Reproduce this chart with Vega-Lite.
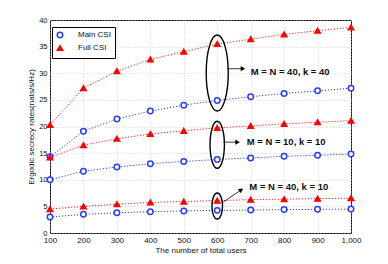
{
  "$schema": "https://vega.github.io/schema/vega-lite/v6.json",
  "width": 301,
  "height": 213,
  "autosize": "none",
  "padding": {"left": 50, "top": 20, "right": 37, "bottom": 31},
  "background": "white",
  "config": {
    "font": "Liberation Sans",
    "view": {"stroke": "black", "strokeWidth": 1},
    "axis": {
      "grid": true,
      "gridColor": "#c4c4c4",
      "gridDash": [1, 2],
      "gridWidth": 0.8,
      "domain": false,
      "ticks": false,
      "labelFontSize": 8,
      "labelColor": "#111",
      "titleFontSize": 8,
      "titleFontWeight": "normal",
      "titleColor": "#111",
      "labelFlush": false,
      "labelOverlap": false
    }
  },
  "datasets": {
    "curves": [
      {"users": 100, "rate": 20.3, "series": "Full CSI", "config": "40-40"},
      {"users": 200, "rate": 27.2, "series": "Full CSI", "config": "40-40"},
      {"users": 300, "rate": 30.4, "series": "Full CSI", "config": "40-40"},
      {"users": 400, "rate": 32.6, "series": "Full CSI", "config": "40-40"},
      {"users": 500, "rate": 34.05, "series": "Full CSI", "config": "40-40"},
      {"users": 600, "rate": 35.5, "series": "Full CSI", "config": "40-40"},
      {"users": 700, "rate": 36.4, "series": "Full CSI", "config": "40-40"},
      {"users": 800, "rate": 37.3, "series": "Full CSI", "config": "40-40"},
      {"users": 900, "rate": 38.0, "series": "Full CSI", "config": "40-40"},
      {"users": 1000, "rate": 38.6, "series": "Full CSI", "config": "40-40"},
      {"users": 100, "rate": 14.3, "series": "Main CSI", "config": "40-40"},
      {"users": 200, "rate": 19.1, "series": "Main CSI", "config": "40-40"},
      {"users": 300, "rate": 21.4, "series": "Main CSI", "config": "40-40"},
      {"users": 400, "rate": 22.9, "series": "Main CSI", "config": "40-40"},
      {"users": 500, "rate": 24.0, "series": "Main CSI", "config": "40-40"},
      {"users": 600, "rate": 24.9, "series": "Main CSI", "config": "40-40"},
      {"users": 700, "rate": 25.6, "series": "Main CSI", "config": "40-40"},
      {"users": 800, "rate": 26.2, "series": "Main CSI", "config": "40-40"},
      {"users": 900, "rate": 26.7, "series": "Main CSI", "config": "40-40"},
      {"users": 1000, "rate": 27.2, "series": "Main CSI", "config": "40-40"},
      {"users": 100, "rate": 14.2, "series": "Full CSI", "config": "10-10"},
      {"users": 200, "rate": 16.5, "series": "Full CSI", "config": "10-10"},
      {"users": 300, "rate": 17.7, "series": "Full CSI", "config": "10-10"},
      {"users": 400, "rate": 18.6, "series": "Full CSI", "config": "10-10"},
      {"users": 500, "rate": 19.2, "series": "Full CSI", "config": "10-10"},
      {"users": 600, "rate": 19.75, "series": "Full CSI", "config": "10-10"},
      {"users": 700, "rate": 20.1, "series": "Full CSI", "config": "10-10"},
      {"users": 800, "rate": 20.5, "series": "Full CSI", "config": "10-10"},
      {"users": 900, "rate": 20.8, "series": "Full CSI", "config": "10-10"},
      {"users": 1000, "rate": 21.1, "series": "Full CSI", "config": "10-10"},
      {"users": 100, "rate": 10.0, "series": "Main CSI", "config": "10-10"},
      {"users": 200, "rate": 11.6, "series": "Main CSI", "config": "10-10"},
      {"users": 300, "rate": 12.4, "series": "Main CSI", "config": "10-10"},
      {"users": 400, "rate": 13.0, "series": "Main CSI", "config": "10-10"},
      {"users": 500, "rate": 13.45, "series": "Main CSI", "config": "10-10"},
      {"users": 600, "rate": 13.8, "series": "Main CSI", "config": "10-10"},
      {"users": 700, "rate": 14.1, "series": "Main CSI", "config": "10-10"},
      {"users": 800, "rate": 14.4, "series": "Main CSI", "config": "10-10"},
      {"users": 900, "rate": 14.6, "series": "Main CSI", "config": "10-10"},
      {"users": 1000, "rate": 14.85, "series": "Main CSI", "config": "10-10"},
      {"users": 100, "rate": 4.5, "series": "Full CSI", "config": "40-10"},
      {"users": 200, "rate": 5.0, "series": "Full CSI", "config": "40-10"},
      {"users": 300, "rate": 5.4, "series": "Full CSI", "config": "40-10"},
      {"users": 400, "rate": 5.75, "series": "Full CSI", "config": "40-10"},
      {"users": 500, "rate": 5.9, "series": "Full CSI", "config": "40-10"},
      {"users": 600, "rate": 6.1, "series": "Full CSI", "config": "40-10"},
      {"users": 700, "rate": 6.25, "series": "Full CSI", "config": "40-10"},
      {"users": 800, "rate": 6.35, "series": "Full CSI", "config": "40-10"},
      {"users": 900, "rate": 6.45, "series": "Full CSI", "config": "40-10"},
      {"users": 1000, "rate": 6.55, "series": "Full CSI", "config": "40-10"},
      {"users": 100, "rate": 3.0, "series": "Main CSI", "config": "40-10"},
      {"users": 200, "rate": 3.5, "series": "Main CSI", "config": "40-10"},
      {"users": 300, "rate": 3.8, "series": "Main CSI", "config": "40-10"},
      {"users": 400, "rate": 4.0, "series": "Main CSI", "config": "40-10"},
      {"users": 500, "rate": 4.15, "series": "Main CSI", "config": "40-10"},
      {"users": 600, "rate": 4.25, "series": "Main CSI", "config": "40-10"},
      {"users": 700, "rate": 4.3, "series": "Main CSI", "config": "40-10"},
      {"users": 800, "rate": 4.4, "series": "Main CSI", "config": "40-10"},
      {"users": 900, "rate": 4.45, "series": "Main CSI", "config": "40-10"},
      {"users": 1000, "rate": 4.5, "series": "Main CSI", "config": "40-10"}
    ],
    "arrows": [
      {"x1": 631, "y1": 30.85, "x2": 677, "y2": 30.85},
      {"x1": 618, "y1": 17.06, "x2": 661, "y2": 17.06}
    ],
    "slantArrow": [
      {"x1": 618, "y1": 5.81, "x2": 672, "y2": 8.1}
    ],
    "labels": [
      {"x": 700, "y": 30.25, "text": "M = N = 40, k = 40"},
      {"x": 688, "y": 17.06, "text": "M = N = 10, k = 10"},
      {"x": 696, "y": 8.6, "text": "M = N = 40, k = 10"}
    ]
  },
  "layer": [
    {
      "data": {"name": "curves"},
      "transform": [{"filter": "datum.series === 'Main CSI'"}],
      "mark": {"type": "line", "strokeWidth": 1, "strokeDash": [1.2, 1.8], "color": "#2a3cff", "clip": true},
      "encoding": {
        "x": {
          "field": "users", "type": "quantitative",
          "scale": {"domain": [100, 1000], "nice": false},
          "axis": {"values": [100, 200, 300, 400, 500, 600, 700, 800, 900, 1000], "tickCount": 10, "title": "The number of total users", "titlePadding": 2, "labelPadding": 3, "labelOverlap": false, "labelFontSize": 8}
        },
        "y": {
          "field": "rate", "type": "quantitative",
          "scale": {"domain": [0, 40], "nice": false},
          "axis": {"values": [0, 5, 10, 15, 20, 25, 30, 35, 40], "tickCount": 9, "title": "Ergodic secrecy rates(nats/s/Hz)", "titlePadding": 3, "labelPadding": 3, "labelFontSize": 7.5, "labelOverlap": false}
        },
        "detail": {"field": "config"}
      }
    },
    {
      "data": {"name": "curves"},
      "transform": [{"filter": "datum.series === 'Full CSI'"}],
      "mark": {"type": "line", "strokeWidth": 1, "strokeDash": [1.2, 1.8], "color": "#ff1a1a", "clip": true},
      "encoding": {
        "x": {"field": "users", "type": "quantitative"},
        "y": {"field": "rate", "type": "quantitative"},
        "detail": {"field": "config"}
      }
    },
    {
      "data": {"name": "curves"},
      "mark": {"type": "point", "filled": false, "strokeWidth": 1.5, "opacity": 1},
      "encoding": {
        "x": {"field": "users", "type": "quantitative"},
        "y": {"field": "rate", "type": "quantitative"},
        "stroke": {"field": "series", "type": "nominal", "scale": {"domain": ["Main CSI", "Full CSI"], "range": ["#2a3cff", "#ff0000"]},
          "legend": {"title": null, "orient": "none", "legendX": 2, "legendY": 7, "fillColor": "white", "strokeColor": "black", "padding": 4, "rowPadding": 1, "labelFontSize": 8, "labelColor": "#111", "symbolSize": 30, "symbolStrokeWidth": 1.5, "labelOffset": 14,
            "encode": {"legend": {"update": {"stroke": {"value": "black"}, "strokeWidth": {"value": 1}, "fill": {"value": "white"}}}}}},
        "fill": {"field": "series", "type": "nominal", "scale": {"domain": ["Main CSI", "Full CSI"], "range": ["white", "#ff0000"]}, "legend": {"title": null}},
        "shape": {"field": "series", "type": "nominal", "scale": {"domain": ["Main CSI", "Full CSI"], "range": ["circle", "triangle-up"]}, "legend": {"title": null}},
        "size": {"value": 30}
      }
    },
    {
      "data": {"values": [{"x": 600, "y": 30.05}]},
      "mark": {"type": "point", "filled": false, "stroke": "black", "strokeWidth": 1.4, "size": 5776, "opacity": 1,
        "shape": "M 0 -1 A 0.29 1 0 1 1 0 1 A 0.29 1 0 1 1 0 -1 Z"},
      "encoding": {"x": {"field": "x", "type": "quantitative"}, "y": {"field": "y", "type": "quantitative"}}
    },
    {
      "data": {"values": [{"x": 600, "y": 16.56}]},
      "mark": {"type": "point", "filled": false, "stroke": "black", "strokeWidth": 1.4, "size": 2209, "opacity": 1,
        "shape": "M 0 -1 A 0.306 1 0 1 1 0 1 A 0.306 1 0 1 1 0 -1 Z"},
      "encoding": {"x": {"field": "x", "type": "quantitative"}, "y": {"field": "y", "type": "quantitative"}}
    },
    {
      "data": {"values": [{"x": 600, "y": 5.06}]},
      "mark": {"type": "point", "filled": false, "stroke": "black", "strokeWidth": 1.4, "size": 676, "opacity": 1,
        "shape": "M 0 -1 A 0.41 1 0 1 1 0 1 A 0.41 1 0 1 1 0 -1 Z"},
      "encoding": {"x": {"field": "x", "type": "quantitative"}, "y": {"field": "y", "type": "quantitative"}}
    },
    {
      "data": {"name": "arrows"},
      "mark": {"type": "rule", "color": "black", "strokeWidth": 0.8},
      "encoding": {
        "x": {"field": "x1", "type": "quantitative"}, "y": {"field": "y1", "type": "quantitative"},
        "x2": {"field": "x2"}, "y2": {"field": "y2"}
      }
    },
    {
      "data": {"name": "arrows"},
      "mark": {"type": "point", "shape": "triangle-right", "filled": true, "color": "black", "size": 28, "opacity": 1},
      "encoding": {"x": {"field": "x2", "type": "quantitative"}, "y": {"field": "y2", "type": "quantitative"}}
    },
    {
      "data": {"name": "slantArrow"},
      "mark": {"type": "rule", "color": "black", "strokeWidth": 0.8},
      "encoding": {
        "x": {"field": "x1", "type": "quantitative"}, "y": {"field": "y1", "type": "quantitative"},
        "x2": {"field": "x2"}, "y2": {"field": "y2"}
      }
    },
    {
      "data": {"name": "slantArrow"},
      "mark": {"type": "point", "shape": "triangle-right", "filled": true, "color": "black", "size": 28, "opacity": 1, "angle": -33},
      "encoding": {"x": {"field": "x2", "type": "quantitative"}, "y": {"field": "y2", "type": "quantitative"}}
    },
    {
      "data": {"name": "labels"},
      "mark": {"type": "text", "align": "left", "baseline": "middle", "fontWeight": "bold", "fontSize": 9.5, "color": "#111"},
      "encoding": {
        "x": {"field": "x", "type": "quantitative"}, "y": {"field": "y", "type": "quantitative"},
        "text": {"field": "text"}
      }
    }
  ]
}
